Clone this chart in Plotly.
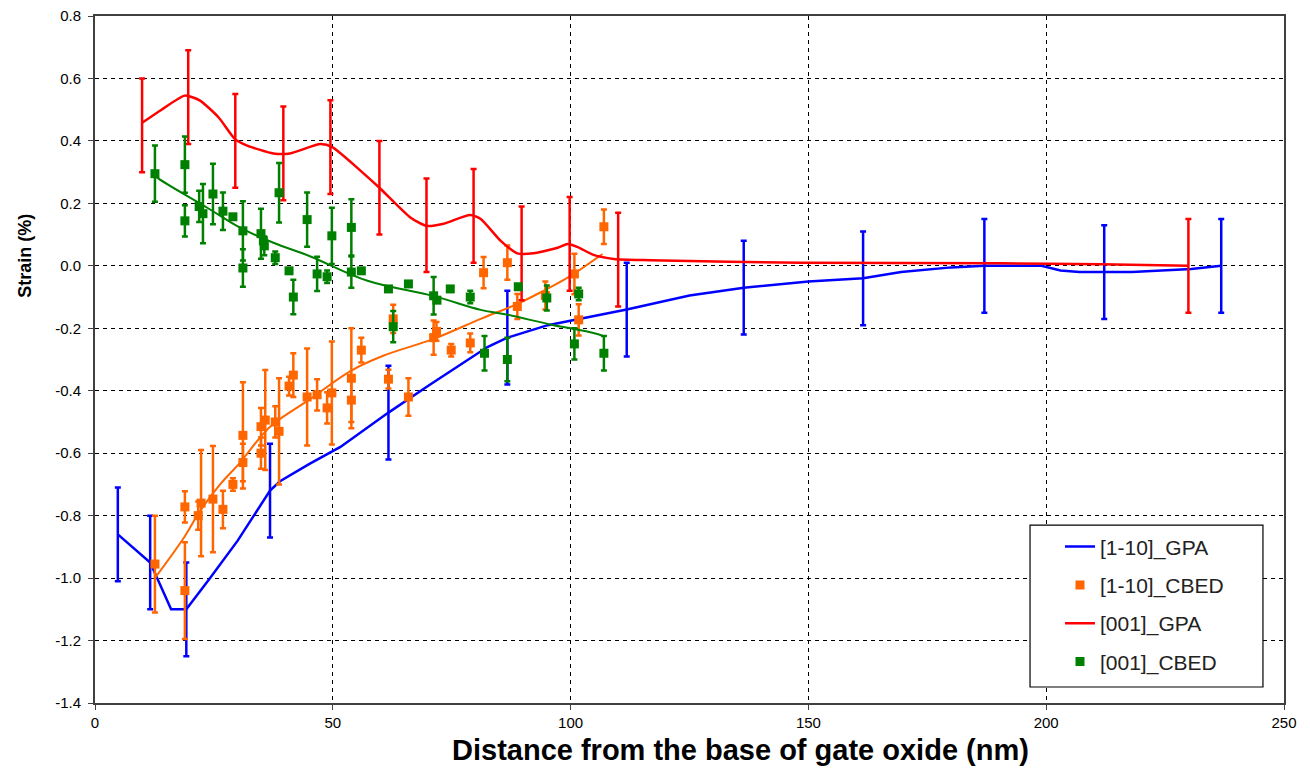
import plotly.graph_objects as go

# ---------------- data ----------------
# [1-10]_GPA (blue line) and its error-bar points
gpa110_x = [4.8, 11.6, 16.0, 19.2, 24.2, 30.0, 36.8, 38.9, 45.0, 51.6, 61.7, 70.0, 82.5, 86.7, 95.2,
            100.0, 111.8, 125.0, 136.4, 150.0, 161.5, 169.5, 180.0, 187.0, 199.0, 203.0, 207.0,
            212.2, 218.0, 230.5, 236.8]
gpa110_y = [-0.86, -0.95, -1.10, -1.10, -1.00, -0.88, -0.72, -0.69, -0.635, -0.58, -0.47, -0.385,
            -0.26, -0.23, -0.19, -0.175, -0.14, -0.095, -0.07, -0.05, -0.04, -0.02, -0.005, 0.0,
            0.0, -0.015, -0.02, -0.02, -0.02, -0.01, 0.0]
gpa110_err_x = [4.8, 11.6, 19.2, 36.8, 61.7, 86.7, 111.8, 136.4, 161.5, 187.0, 212.2, 236.8]
gpa110_err_y = [-0.86, -0.95, -1.10, -0.72, -0.47, -0.23, -0.14, -0.07, -0.04, 0.0, -0.02, 0.0]
gpa110_err = [0.15] * len(gpa110_err_x)

# [001]_GPA (red line) and its error-bar points
gpa001_x = [9.9, 14.0, 18.9, 22.0, 26.0, 29.5, 32.0, 37.5, 41.0, 47.4, 49.9, 55.8, 59.8, 66.3, 69.7,
            73.3, 78.9, 81.1, 85.3, 88.8, 92.2, 97.3, 99.4, 101.5, 104.8, 109.1, 116.8, 148.4,
            190.5, 211.6, 229.9]
gpa001_y = [0.458, 0.50, 0.545, 0.53, 0.475, 0.405, 0.385, 0.36, 0.36, 0.39, 0.38, 0.305, 0.25,
            0.155, 0.128, 0.135, 0.163, 0.15, 0.08, 0.04, 0.04, 0.058, 0.07, 0.06, 0.035, 0.022,
            0.018, 0.01, 0.008, 0.005, 0.0]
gpa001_err_x = [9.9, 19.6, 29.5, 39.6, 49.5, 59.8, 69.7, 79.6, 89.7, 99.8, 110.0, 229.9]
gpa001_err_y = [0.45, 0.54, 0.40, 0.36, 0.38, 0.25, 0.13, 0.16, 0.04, 0.07, 0.02, 0.0]
gpa001_err = [0.15] * len(gpa001_err_x)

# [1-10]_CBED (orange squares) and trend line
cbed110_x = [12.6, 18.9, 18.9, 21.7, 22.3, 24.8, 26.9, 29.0, 31.1, 31.1, 34.9, 34.9, 35.8, 37.9,
             38.7, 40.8, 41.7, 44.6, 46.7, 48.8, 49.8, 53.9, 53.9, 56.0, 61.7, 62.7, 65.9, 71.2,
             71.8, 74.9, 78.9, 81.7, 86.7, 88.8, 94.7, 100.8, 101.7, 107.0]
cbed110_y = [-0.955, -0.772, -1.04, -0.80, -0.76, -0.747, -0.78, -0.70, -0.543, -0.63, -0.515,
             -0.60, -0.494, -0.50, -0.53, -0.385, -0.35, -0.42, -0.413, -0.455, -0.407, -0.36,
             -0.43, -0.27, -0.363, -0.17, -0.42, -0.23, -0.21, -0.27, -0.247, -0.022, 0.01,
             -0.13, -0.095, -0.026, -0.173, 0.125]
cbed110_err = [0.155, 0.05, 0.155, 0.045, 0.17, 0.17, 0.06, 0.02, 0.17, 0.06, 0.06, 0.05, 0.16,
               0.05, 0.17, 0.03, 0.07, 0.155, 0.05, 0.05, 0.165, 0.16, 0.07, 0.04, 0.03, 0.045,
               0.06, 0.055, 0.03, 0.02, 0.03, 0.05, 0.055, 0.04, 0.045, 0.065, 0.05, 0.055]
trend110_x = [12.6, 18.5, 22.1, 26.3, 30.5, 34.7, 37.5, 45.3, 53.7, 60.6, 71.2, 81.1, 88.8, 94.3,
              100.0, 106.7]
trend110_y = [-1.0, -0.875, -0.785, -0.70, -0.63, -0.55, -0.506, -0.426, -0.337, -0.288, -0.234,
              -0.17, -0.122, -0.08, -0.032, 0.038]

# [001]_CBED (green squares) and trend line
cbed001_x = [12.6, 18.9, 18.9, 21.9, 22.7, 24.8, 26.9, 29.0, 31.1, 31.1, 34.9, 35.4, 35.6, 37.9,
             38.7, 40.8, 41.7, 44.6, 46.7, 48.8, 49.8, 53.9, 53.9, 56.0, 61.7, 62.7, 65.9, 71.2,
             71.9, 74.7, 78.9, 81.9, 86.7, 89.0, 95.0, 100.8, 101.7, 107.0]
cbed001_y = [0.295, 0.324, 0.144, 0.19, 0.167, 0.23, 0.175, 0.157, 0.112, -0.007, 0.103, 0.08,
             0.064, 0.026, 0.234, -0.016, -0.10, 0.148, -0.026, -0.035, 0.096, 0.123, -0.02,
             -0.016, -0.074, -0.195, -0.058, -0.096, -0.11, -0.074, -0.10, -0.28, -0.30, -0.067,
             -0.103, -0.25, -0.09, -0.28]
cbed001_err = [0.09, 0.09, 0.05, 0.05, 0.095, 0.097, 0.06, 0.0, 0.095, 0.06, 0.08, 0.0, 0.03,
               0.02, 0.095, 0.0, 0.055, 0.087, 0.055, 0.02, 0.09, 0.09, 0.05, 0.0, 0.0, 0.05,
               0.0, 0.06, 0.0, 0.0, 0.02, 0.055, 0.07, 0.0, 0.04, 0.05, 0.02, 0.055]
trend001_x = [12.6, 13.3, 23.6, 30.5, 37.5, 45.3, 57.3, 71.2, 81.1, 85.9, 96.4, 100.0, 104.8, 107.0]
trend001_y = [0.29, 0.28, 0.186, 0.122, 0.074, 0.03, -0.048, -0.097, -0.141, -0.154, -0.19,
              -0.20, -0.215, -0.225]

x_ticks = [0, 50, 100, 150, 200, 250]
y_ticks = [0.8, 0.6, 0.4, 0.2, 0.0, -0.2, -0.4, -0.6, -0.8, -1.0, -1.2, -1.4]

# ---------------- styles ----------------
BLUE = "#0000FF"
ORANGE = "#FF6600"
RED = "#FF0000"
GREEN = "#008000"
FONT = "Liberation Sans, Arial, sans-serif"

fig = go.Figure()

def err_bars(x, y, e, color, group):
    return go.Scatter(
        x=x, y=y, mode="markers", showlegend=False, legendgroup=group, hoverinfo="skip",
        marker=dict(size=1, color="rgba(0,0,0,0)"),
        error_y=dict(type="data", array=e, visible=True, color=color, thickness=2.5, width=3),
    )

# [1-10]_GPA
fig.add_trace(go.Scatter(x=gpa110_x, y=gpa110_y, mode="lines", name="[1-10]_GPA",
                         legendgroup="a", legendrank=1,
                         line=dict(color=BLUE, width=2.5)))
fig.add_trace(err_bars(gpa110_err_x, gpa110_err_y, gpa110_err, BLUE, "a"))

# [1-10]_CBED
fig.add_trace(go.Scatter(x=trend110_x, y=trend110_y, mode="lines", showlegend=False,
                         legendgroup="b", line=dict(color=ORANGE, width=2, shape="spline")))
fig.add_trace(go.Scatter(x=cbed110_x, y=cbed110_y, mode="markers", name="[1-10]_CBED",
                         legendgroup="b", legendrank=2,
                         marker=dict(symbol="square", size=9, color=ORANGE),
                         error_y=dict(type="data", array=cbed110_err, visible=True, color=ORANGE,
                                      thickness=2.5, width=3)))

# [001]_GPA
fig.add_trace(go.Scatter(x=gpa001_x, y=gpa001_y, mode="lines", name="[001]_GPA",
                         legendgroup="c", legendrank=3,
                         line=dict(color=RED, width=2.5, shape="spline", smoothing=0.6)))
fig.add_trace(err_bars(gpa001_err_x, gpa001_err_y, gpa001_err, RED, "c"))

# [001]_CBED
fig.add_trace(go.Scatter(x=trend001_x, y=trend001_y, mode="lines", showlegend=False,
                         legendgroup="d", line=dict(color=GREEN, width=2, shape="spline")))
fig.add_trace(go.Scatter(x=cbed001_x, y=cbed001_y, mode="markers", name="[001]_CBED",
                         legendgroup="d", legendrank=4,
                         marker=dict(symbol="square", size=9, color=GREEN),
                         error_y=dict(type="data", array=cbed001_err, visible=True, color=GREEN,
                                      thickness=2.5, width=3)))

# legend frame (white box with black border)
fig.add_shape(type="rect", xref="paper", yref="paper",
              x0=0.7864, x1=0.9823, y0=0.0233, y1=0.259,
              fillcolor="white", line=dict(color="black", width=1.2), layer="above")

fig.update_layout(
    width=1310, height=769,
    margin=dict(l=87, r=34, t=8, b=74),
    paper_bgcolor="white", plot_bgcolor="white",
    font=dict(family=FONT, size=15, color="black"),
    showlegend=True,
    legend=dict(
        x=0.8116, y=0.257, xanchor="left", yanchor="top",
        bgcolor="rgba(0,0,0,0)", borderwidth=0,
        font=dict(family=FONT, size=21, color="#222"),
        traceorder="grouped", tracegroupgap=8,
        itemwidth=30,
    ),
    xaxis=dict(
        range=[0, 250], tickvals=x_ticks, ticktext=[str(v) for v in x_ticks],
        showgrid=True, gridcolor="black", gridwidth=1, griddash="4px,4px",
        showline=True, linecolor="#404040", linewidth=2, mirror=True,
        ticks="outside", ticklen=5, tickcolor="#404040", zeroline=False,
        tickfont=dict(size=15, family=FONT), automargin=False, ticklabeloverflow="allow",
    ),
    yaxis=dict(
        range=[-1.4, 0.8], tickvals=y_ticks, ticktext=[f"{v:.1f}" for v in y_ticks],
        showgrid=True, gridcolor="black", gridwidth=1, griddash="4px,4px",
        showline=True, linecolor="#404040", linewidth=2, mirror=True,
        ticks="outside", ticklen=5, tickcolor="#404040", zeroline=False,
        tickfont=dict(size=15, family=FONT), automargin=False, ticklabelstandoff=4,
        ticklabeloverflow="allow",
    ),
    annotations=[
        dict(text="<b>Distance from the base of gate oxide (nm)</b>", xref="paper", yref="paper",
             x=0.5425, y=-0.0684, xanchor="center", yanchor="middle", showarrow=False,
             font=dict(size=29, family=FONT, color="black")),
        dict(text="<b>Strain (%)</b>", xref="paper", yref="paper", textangle=-90,
             x=-0.0588, y=0.651, xanchor="center", yanchor="middle", showarrow=False,
             font=dict(size=18, family=FONT, color="black")),
    ],
)

fig.write_html("out.html")
